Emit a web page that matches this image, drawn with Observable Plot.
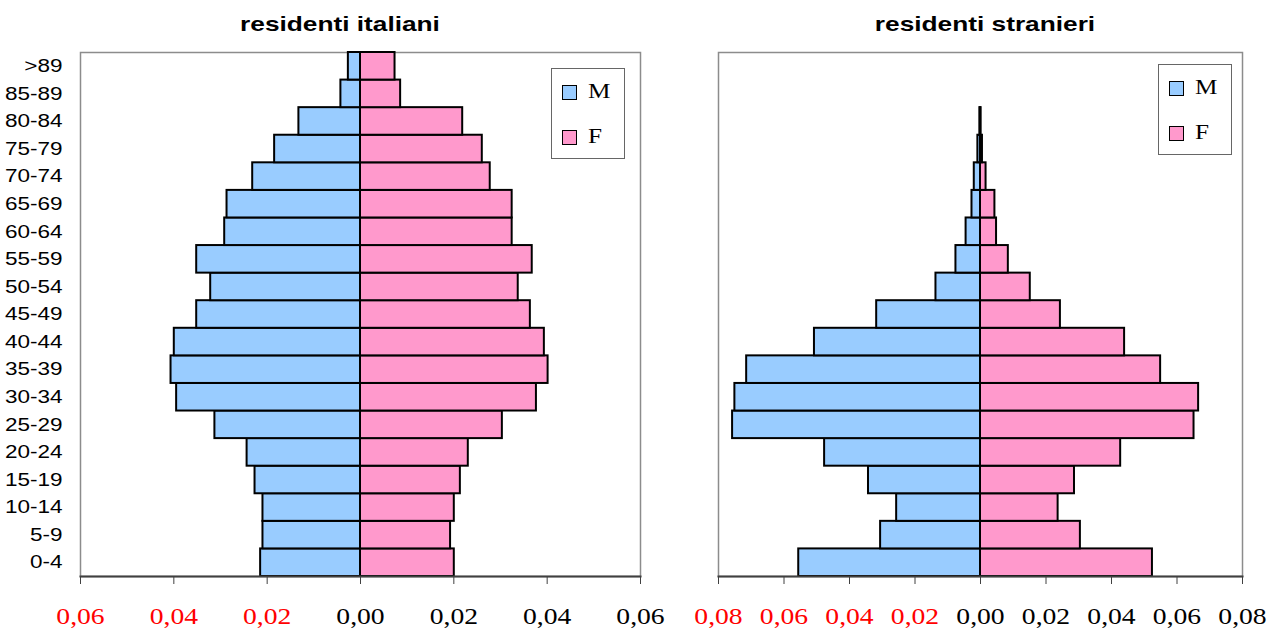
<!DOCTYPE html>
<html>
<head>
<meta charset="utf-8">
<script src="https://cdn.jsdelivr.net/npm/d3@7"></script>
<script src="https://cdn.jsdelivr.net/npm/@observablehq/plot@0.6"></script>
<style>
  html, body { margin: 0; padding: 0; background: #fff; }
  #wrap { position: relative; width: 1280px; height: 628px; overflow: hidden; background: #fff; }
  .chart { position: absolute; top: 0; }
  .title { position: absolute; top: 12px; font: bold 21px "Liberation Sans", Arial, sans-serif; color: #000;
           white-space: nowrap; line-height: 24px; transform: translateX(-50%) scaleX(1.25); transform-origin: center; }
  .legend { position: absolute; width: 74px; height: 91px; border: 1px solid #666; background: #fff; box-sizing: border-box; }
  .sw { position: absolute; left: 10px; width: 13px; height: 13px; border: 1.5px solid #000; }
  .lt { position: absolute; left: 36px; font: 21px "Liberation Serif", "Times New Roman", serif; line-height: 21px;
        transform: scaleX(1.2); transform-origin: left center; }
</style>
</head>
<body>
<div id="wrap"></div>
<script>
// ---- data ----
const ages = ["0-4","5-9","10-14","15-19","20-24","25-29","30-34","35-39","40-44","45-49",
              "50-54","55-59","60-64","65-69","70-74","75-79","80-84","85-89",">89"];
const italianiM = [0.0214,0.0209,0.0209,0.0226,0.0243,0.0312,0.0394,0.0406,0.0399,0.0351,
                   0.0321,0.0351,0.0291,0.0286,0.0231,0.0184,0.0132,0.0042,0.0026];
const italianiF = [0.0201,0.0193,0.0201,0.0214,0.0231,0.0304,0.0377,0.0402,0.0394,0.0364,
                   0.0338,0.0368,0.0325,0.0325,0.0278,0.0261,0.0219,0.0086,0.0074];
const stranieriM = [0.0555,0.0305,0.0256,0.0342,0.0476,0.0757,0.0750,0.0714,0.0507,0.0317,
                    0.0136,0.0075,0.0044,0.0026,0.0019,0.0008,0.0002,0,0];
const stranieriF = [0.0525,0.0305,0.0237,0.0287,0.0428,0.0652,0.0666,0.0550,0.0440,0.0244,
                    0.0152,0.0085,0.0049,0.0044,0.0017,0.0006,0.0002,0,0];
const ticksIta = [-0.06,-0.04,-0.02,0,0.02,0.04,0.06];
const ticksStr = [-0.08,-0.06,-0.04,-0.02,0,0.02,0.04,0.06,0.08];
const titles = ["residenti italiani","residenti stranieri"];
const legendLabels = ["M","F"];
const colorM = "#99ccff", colorF = "#ff99cc";

const fmt = d => Math.abs(d).toFixed(2).replace(".", ",");
const agesTopDown = ages.slice().reverse();

function pyramid(M, F, ticks, dom, opts) {
  const rows = ages.map((a, i) => ({age: a, m: M[i], f: F[i]}));
  const neg = ticks.filter(t => t < 0), pos = ticks.filter(t => t >= 0);
  const marks = [
    Plot.frame({stroke: "#8c8c8c", strokeWidth: 1.5}),
    Plot.barX(rows, {filter: d => d.m > 0, y: "age", x1: 0, x2: d => -d.m, fill: colorM, stroke: "#000", strokeWidth: 2}),
    Plot.barX(rows, {filter: d => d.f > 0, y: "age", x1: 0, x2: "f", fill: colorF, stroke: "#000", strokeWidth: 2}),
    Plot.frame({anchor: "bottom", stroke: "#404040", strokeWidth: 2}),
    Plot.axisX({ticks: neg, tickSize: 8, tickPadding: 22, tickFormat: fmt, fill: "#ff0000", stroke: "#404040",
                fontFamily: "Liberation Serif", fontSize: 24, label: null}),
    Plot.axisX({ticks: pos, tickSize: 8, tickPadding: 22, tickFormat: fmt, fill: "#000", stroke: "#404040",
                fontFamily: "Liberation Serif", fontSize: 24, label: null})
  ];
  if (opts.yLabels) marks.push(Plot.axisY({tickSize: 0, tickPadding: 18, fontSize: 18, label: null, fill: "#000"}));
  return Plot.plot({
    width: opts.width, height: 628,
    marginLeft: opts.ml, marginRight: opts.mr, marginTop: 52, marginBottom: 52,
    style: {fontFamily: "'Liberation Sans', Arial, sans-serif", fontSize: "18px", background: "transparent", overflow: "visible"},
    x: {domain: dom, label: null},
    y: {domain: agesTopDown, padding: 0, round: false, label: null, axis: opts.yLabels ? undefined : null},
    marks
  });
}

const wrap = document.getElementById("wrap");
const left = pyramid(italianiM, italianiF, ticksIta, [-0.06, 0.06], {width: 660, ml: 80, mr: 20, yLabels: true});
const right = pyramid(stranieriM, stranieriF, ticksStr, [-0.08, 0.08], {width: 620, ml: 58, mr: 38, yLabels: false});
left.classList.add("chart"); left.style.left = "0px";
right.classList.add("chart"); right.style.left = "660px";
wrap.appendChild(left); wrap.appendChild(right);

// titles
[[titles[0], 340], [titles[1], 985]].forEach(([t, cx]) => {
  const d = document.createElement("div");
  d.className = "title"; d.textContent = t; d.style.left = cx + "px";
  wrap.appendChild(d);
});

// legends
[[551, 68], [1158, 64]].forEach(([lx, ly]) => {
  const box = document.createElement("div");
  box.className = "legend"; box.style.left = lx + "px"; box.style.top = ly + "px";
  [[colorM, 16, legendLabels[0]], [colorF, 61, legendLabels[1]]].forEach(([c, top, lab]) => {
    const s = document.createElement("div");
    s.className = "sw"; s.style.background = c; s.style.top = top + "px";
    box.appendChild(s);
    const t = document.createElement("div");
    t.className = "lt"; t.textContent = lab; t.style.top = (top - 4) + "px";
    box.appendChild(t);
  });
  wrap.appendChild(box);
});

// horizontal stretch of axis text (the reference is drawn wide)
document.querySelectorAll('svg g[aria-label="y-axis tick label"] text').forEach(el => {
  const w = el.getComputedTextLength();
  el.setAttribute("textLength", (w * 1.25).toFixed(1));
  el.setAttribute("lengthAdjust", "spacingAndGlyphs");
});
document.querySelectorAll('svg g[aria-label="x-axis tick label"] text').forEach(el => {
  const w = el.getComputedTextLength();
  el.setAttribute("textLength", (w * 1.15).toFixed(1));
  el.setAttribute("lengthAdjust", "spacingAndGlyphs");
});
</script>
</body>
</html>
